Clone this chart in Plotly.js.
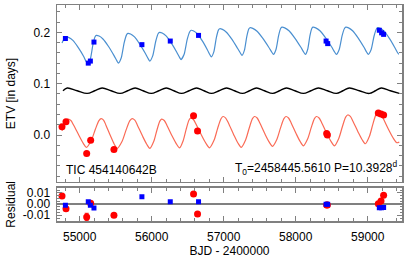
<!DOCTYPE html>
<html><head><meta charset="utf-8">
<script src="https://cdn.plot.ly/plotly-3.0.1.min.js"></script>
<style>html,body{margin:0;padding:0;background:#fff;overflow:hidden}</style>
</head><body><div id="chart" style="width:407px;height:259px"></div>
<script>
// Model curves (BJD - 2400000, ETV in days)
const secModelX = [54754.5,54785.0,54815.5,54851.6,54905.7,54980.6,55055.5,55088.8,
 55115.1,55149.8,55184.5,55213.6,55231.6,55269.1,55323.2,55400.8,55477.1,55517.4,
 55538.2,55577.7,55617.2,55650.5,55669.9,55706.0,55761.5,55836.4,55912.6,55952.9,
 55973.7,56013.9,56055.5,56088.8,56109.6,56145.7,56199.8,56273.3,56348.2,56387.0,
 56407.8,56450.8,56492.4,56528.5,56549.3,56582.6,56632.5,56703.2,56772.6,56808.6,
 56828.1,56862.7,56897.4,56926.5,56944.6,56982.0,57037.5,57115.2,57191.5,57233.1,
 57253.9,57287.2,57320.5,57348.2,57364.8,57403.7,57463.3,57543.7,57625.6,57668.6,
 57690.8,57726.2,57761.5,57790.6,57808.7,57847.5,57906.5,57987.6,58069.4,58112.4,
 58134.6,58165.8,58197.0,58223.4,58238.6,58277.5,58336.4,58417.6,58499.4,58542.4,
 58564.6,58604.1,58643.6,58676.9,58696.4,58733.8,58790.0,58868.3,58946.0,58986.2,
 59008.4,59047.9,59087.5,59120.8,59140.2,59174.9,59227.6,59300.4,59373.2,59410.7,
 59431.5];
const secModelY = [0.179,0.1875,0.191,0.1897,0.1842,0.1702,0.153,0.1432,
 0.139,0.1489,0.1764,0.1912,0.194,0.1927,0.187,0.1724,0.1546,0.1443,
 0.140,0.1504,0.1794,0.1951,0.198,0.1967,0.191,0.1764,0.1586,0.1483,
 0.144,0.1541,0.1821,0.1972,0.200,0.1987,0.1931,0.1788,0.1613,0.1512,
 0.147,0.1573,0.1858,0.2012,0.204,0.2027,0.1972,0.1832,0.166,0.1562,
 0.152,0.1619,0.1894,0.2043,0.207,0.2057,0.2002,0.1862,0.169,0.1592,
 0.155,0.1647,0.1917,0.2063,0.209,0.2077,0.2022,0.1882,0.171,0.1612,
 0.157,0.1665,0.193,0.2074,0.210,0.2087,0.2031,0.1888,0.1713,0.1612,
 0.157,0.1665,0.193,0.2074,0.210,0.2087,0.2031,0.1888,0.1713,0.1612,
 0.157,0.1665,0.193,0.2074,0.210,0.2087,0.2031,0.1888,0.1713,0.1612,
 0.157,0.1664,0.1924,0.2064,0.209,0.2077,0.2022,0.1882,0.171,0.1612,
 0.157];

const priModelX = [54754.5,54812.8,54840.5,54877.9,54916.8,54990.3,55049.9,
 55092.9,55160.9,55216.4,55267.7,55298.2,55331.5,55364.8,55427.2,55479.9,
 55520.1,55589.5,55645.0,55697.0,55728.2,55765.6,55801.7,55871.0,55930.7,
 55975.1,56029.2,56072.2,56113.1,56137.3,56174.8,56212.2,56281.6,56342.6,
 56387.0,56436.9,56478.5,56516.7,56539.6,56579.1,56618.6,56692.1,56755.9,
 56803.1,56865.5,56915.5,56962.6,56990.3,57027.8,57066.6,57137.4,57197.0,
 57242.8,57303.8,57353.7,57399.5,57427.3,57464.7,57502.1,57571.5,57632.5,
 57676.9,57739.3,57789.3,57836.4,57864.2,57900.2,57937.0,58004.9,58063.2,
 58106.9,58166.5,58215.1,58260.1,58287.2,58324.6,58362.1,58431.4,58492.5,
 58536.9,58597.9,58647.8,58693.6,58721.3,58758.8,58794.8,58864.2,58922.4,
 58966.8,59023.7,59070.8,59113.8,59140.2,59179.7,59219.3,59292.8,59356.6,
 59403.7,59438.4];
const priModelY = [0.008,0.028,0.031,0.0283,0.0189,-0.0009,-0.0163,
 -0.024,-0.0106,0.0107,0.0281,0.032,0.0291,0.0192,-0.0016,-0.0179,
 -0.026,-0.0121,0.0100,0.0279,0.032,0.0291,0.0192,-0.0016,-0.0179,
 -0.026,-0.0123,0.0093,0.0270,0.031,0.0282,0.0187,-0.0015,-0.0172,
 -0.025,-0.0111,0.011,0.0289,0.033,0.0301,0.0202,-0.0006,-0.0169,
 -0.025,-0.0104,0.0128,0.0317,0.036,0.033,0.0228,0.0012,-0.0156,
 -0.024,-0.0096,0.0132,0.0318,0.036,0.0331,0.0232,0.0024,-0.0139,
 -0.022,-0.0081,0.014,0.0319,0.036,0.0332,0.0235,0.0029,-0.013,
 -0.021,-0.0073,0.0143,0.032,0.036,0.0332,0.0235,0.0029,-0.013,
 -0.021,-0.0066,0.0162,0.0348,0.039,0.0362,0.0267,0.0065,-0.0092,
 -0.017,-0.0024,0.0208,0.0397,0.044,0.041,0.031,0.0098,-0.0067,
 -0.015,-0.0135];

const avgModelX = [54768.4,54826.6,54965.3,55104.0,55208.1,55312.1,55436.9,55561.7,55665.8,55769.8,55880.7,55994.5,56098.5,56202.5,56307.9,56414.7,56518.8,56622.8,56726.8,56830.8,56934.9,57038.9,57149.9,57260.8,57357.9,57455.0,57566.0,57681.1,57774.0,57871.1,57989.0,58106.9,58210.9,58314.9,58439.8,58564.6,58654.7,58744.9,58883.6,59022.3,59105.5,59188.7,59313.6,59438.4];
const avgModelY = [0.0860,0.0915,0.0862,0.0810,0.0862,0.0915,0.0862,0.0810,0.0862,0.0915,0.0862,0.0810,0.0862,0.0915,0.0862,0.0810,0.0862,0.0915,0.0862,0.0810,0.0862,0.0915,0.0862,0.0810,0.0862,0.0915,0.0862,0.0810,0.0862,0.0915,0.0862,0.0810,0.0862,0.0915,0.0862,0.0810,0.0862,0.0915,0.0862,0.0810,0.0862,0.0915,0.0862,0.0810];

// Observed eclipse times
const secX   = [54801.7,55119.3,55148.4,55198.3,55864.1,56258.0,56650.5,58421.7,58443.9,59161.0,59192.9,59220.8];
const secY   = [0.188,0.140,0.144,0.181,0.176,0.183,0.194,0.183,0.178,0.204,0.199,0.196];
const secRes = [-0.0012,0.0020,-0.0012,-0.0036,0.0065,0.0020,0.0020,-0.0003,-0.0003,-0.0033,-0.0033,-0.0030];

const priX   = [54754.5,54810.0,55097.1,55152.6,55475.7,56581.2,56636.7,58430.1,58439.8,59147.1,59184.6,59220.8];
const priY   = [0.016,0.026,-0.036,-0.010,-0.028,0.0375,0.0078,0.003,0.000,0.043,0.041,0.039];
const priRes = [0.0071,-0.0042,-0.0116,0.0006,-0.0101,0.0089,-0.0089,-0.0009,-0.0009,0.0003,0.0027,0.0078];
const priErr = [0,0,0.0033,0,0,0,0,0,0,0,0,0];

const xTicks = [55000,56000,57000,58000,59000];
const etvTicks = [0.0,0.1,0.2];
const etvTickText = ['0.0','0.1','0.2'];
const resTicks = [-0.01,0,0.01];
const resTickText = ['-0.01','0.00','0.01'];

const FONT = 'Liberation Sans, Arial, sans-serif';
const frame = '#808080';

const traces = [
  {x: secModelX, y: secModelY, xaxis:'x2', yaxis:'y2', mode:'lines', line:{color:'#4a8fd0', width:1.2, shape:'spline', smoothing:0.6}, hoverinfo:'skip', showlegend:false},
  {x: avgModelX, y: avgModelY, xaxis:'x2', yaxis:'y2', mode:'lines', line:{color:'#000000', width:1.4, shape:'spline', smoothing:1}, hoverinfo:'skip', showlegend:false},
  {x: priModelX, y: priModelY, xaxis:'x2', yaxis:'y2', mode:'lines', line:{color:'#fa6a55', width:1.2, shape:'spline', smoothing:0.8}, hoverinfo:'skip', showlegend:false},
  {x: secX, y: secY, xaxis:'x2', yaxis:'y2', mode:'markers', marker:{symbol:'square', size:5, color:'#0000ff'}, showlegend:false},
  {x: priX, y: priY, xaxis:'x2', yaxis:'y2', mode:'markers', marker:{symbol:'circle', size:7, color:'#ff0000'}, showlegend:false},
  {x: priX, y: priRes, xaxis:'x', yaxis:'y', mode:'markers', marker:{symbol:'circle', size:7, color:'#ff0000'},
   error_y:{type:'data', array:priErr, visible:true, color:'#ff0000', thickness:1, width:2}, showlegend:false},
  {x: secX, y: secRes, xaxis:'x', yaxis:'y', mode:'markers', marker:{symbol:'square', size:5, color:'#0000ff'}, showlegend:false}
];

const axisCommon = {
  showline:true, linecolor:frame, linewidth:1.5, mirror:'ticks', ticks:'inside',
  tickcolor:frame, tickwidth:1, showgrid:false, zeroline:false,
  tickfont:{family:FONT, size:12, color:'#000'}
};

const layout = {
  width:407, height:259,
  margin:{l:57, r:5, t:5, b:38},
  paper_bgcolor:'#fff', plot_bgcolor:'#fff',
  font:{family:FONT, size:12, color:'#000'},
  showlegend:false,
  xaxis: Object.assign({}, axisCommon, {
    domain:[0,1], anchor:'y', range:[54685,59476],
    tickvals:xTicks, ticktext:xTicks.map(String), ticklen:5, ticklabelstandoff:4,
    minor:{dtick:200, ticklen:3, ticks:'inside', tickcolor:frame},
    title:{text:'BJD - 2400000', font:{family:FONT, size:12}, standoff:2}
  }),
  xaxis2: Object.assign({}, axisCommon, {
    domain:[0,1], anchor:'y2', matches:'x', showticklabels:false, ticklen:5,
    tickvals:xTicks, minor:{dtick:200, ticklen:3, ticks:'inside', tickcolor:frame}
  }),
  yaxis: Object.assign({}, axisCommon, {
    domain:[0,0.154], anchor:'x', range:[-0.01518,0.01455],
    tickvals:resTicks, ticktext:resTickText, ticklen:5, ticklabelstandoff:3,
    minor:{dtick:0.0025, ticklen:2.5, ticks:'inside', tickcolor:frame},
    zeroline:true, zerolinecolor:frame, zerolinewidth:1.5,
    title:{text:'Residual', font:{family:FONT, size:12}, standoff:4}
  }),
  yaxis2: Object.assign({}, axisCommon, {
    domain:[0.1806,1], anchor:'x2', range:[-0.0915,0.2532],
    tickvals:etvTicks, ticktext:etvTickText, ticklen:5, ticklabelstandoff:3,
    minor:{dtick:0.02, ticklen:3, ticks:'inside', tickcolor:frame},
    title:{text:'ETV [in days]', font:{family:FONT, size:12}, standoff:15}
  }),
  annotations:[
    {xref:'paper', yref:'paper', x:0.02, y:0.195, xanchor:'left', yanchor:'bottom', showarrow:false,
     text:'TIC 454140642B', font:{family:FONT, size:12, color:'#000'}},
    {xref:'paper', yref:'paper', x:0.995, y:0.195, xanchor:'right', yanchor:'bottom', showarrow:false,
     text:'T<sub>0</sub>=2458445.5610 P=10.3928<sup>d</sup>', font:{family:FONT, size:12, color:'#000'}}
  ]
};

Plotly.newPlot('chart', traces, layout, {staticPlot:true, displayModeBar:false});
</script>
</body></html>
